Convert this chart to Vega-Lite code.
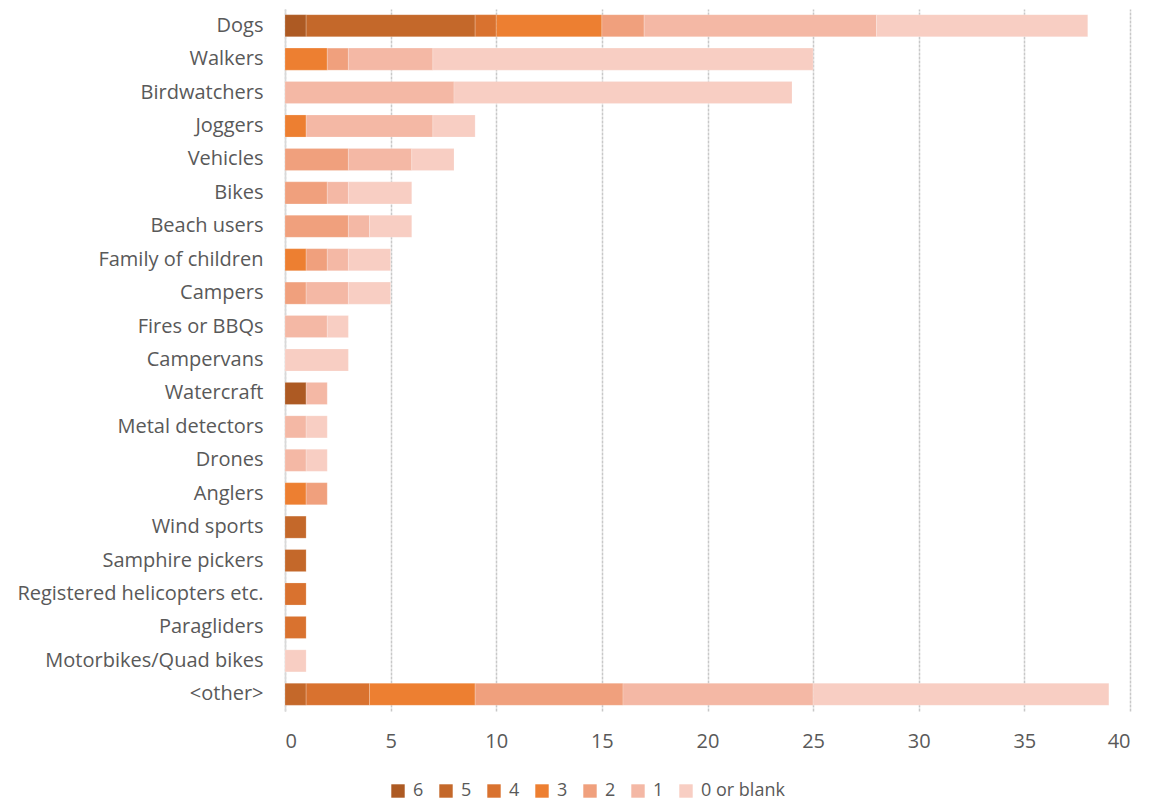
{
  "$schema": "https://vega.github.io/schema/vega-lite/v6.json",
  "width": 845,
  "height": 702,
  "padding": {"left": 16, "top": 9, "right": 14, "bottom": 4},
  "background": "white",
  "config": {
    "font": "Open Sans",
    "view": {"stroke": null},
    "axis": {"labelFont": "Open Sans", "labelColor": "#595959", "labelFontSize": 20}
  },
  "data": {
    "values": [
      {"cat": "Dogs", "level": "6", "ord": 1, "n": 1},
      {"cat": "Dogs", "level": "5", "ord": 2, "n": 8},
      {"cat": "Dogs", "level": "4", "ord": 3, "n": 1},
      {"cat": "Dogs", "level": "3", "ord": 4, "n": 5},
      {"cat": "Dogs", "level": "2", "ord": 5, "n": 2},
      {"cat": "Dogs", "level": "1", "ord": 6, "n": 11},
      {"cat": "Dogs", "level": "0 or blank", "ord": 7, "n": 10},
      {"cat": "Walkers", "level": "3", "ord": 4, "n": 2},
      {"cat": "Walkers", "level": "2", "ord": 5, "n": 1},
      {"cat": "Walkers", "level": "1", "ord": 6, "n": 4},
      {"cat": "Walkers", "level": "0 or blank", "ord": 7, "n": 18},
      {"cat": "Birdwatchers", "level": "1", "ord": 6, "n": 8},
      {"cat": "Birdwatchers", "level": "0 or blank", "ord": 7, "n": 16},
      {"cat": "Joggers", "level": "3", "ord": 4, "n": 1},
      {"cat": "Joggers", "level": "1", "ord": 6, "n": 6},
      {"cat": "Joggers", "level": "0 or blank", "ord": 7, "n": 2},
      {"cat": "Vehicles", "level": "2", "ord": 5, "n": 3},
      {"cat": "Vehicles", "level": "1", "ord": 6, "n": 3},
      {"cat": "Vehicles", "level": "0 or blank", "ord": 7, "n": 2},
      {"cat": "Bikes", "level": "2", "ord": 5, "n": 2},
      {"cat": "Bikes", "level": "1", "ord": 6, "n": 1},
      {"cat": "Bikes", "level": "0 or blank", "ord": 7, "n": 3},
      {"cat": "Beach users", "level": "2", "ord": 5, "n": 3},
      {"cat": "Beach users", "level": "1", "ord": 6, "n": 1},
      {"cat": "Beach users", "level": "0 or blank", "ord": 7, "n": 2},
      {"cat": "Family of children", "level": "3", "ord": 4, "n": 1},
      {"cat": "Family of children", "level": "2", "ord": 5, "n": 1},
      {"cat": "Family of children", "level": "1", "ord": 6, "n": 1},
      {"cat": "Family of children", "level": "0 or blank", "ord": 7, "n": 2},
      {"cat": "Campers", "level": "2", "ord": 5, "n": 1},
      {"cat": "Campers", "level": "1", "ord": 6, "n": 2},
      {"cat": "Campers", "level": "0 or blank", "ord": 7, "n": 2},
      {"cat": "Fires or BBQs", "level": "1", "ord": 6, "n": 2},
      {"cat": "Fires or BBQs", "level": "0 or blank", "ord": 7, "n": 1},
      {"cat": "Campervans", "level": "0 or blank", "ord": 7, "n": 3},
      {"cat": "Watercraft", "level": "6", "ord": 1, "n": 1},
      {"cat": "Watercraft", "level": "1", "ord": 6, "n": 1},
      {"cat": "Metal detectors", "level": "1", "ord": 6, "n": 1},
      {"cat": "Metal detectors", "level": "0 or blank", "ord": 7, "n": 1},
      {"cat": "Drones", "level": "1", "ord": 6, "n": 1},
      {"cat": "Drones", "level": "0 or blank", "ord": 7, "n": 1},
      {"cat": "Anglers", "level": "3", "ord": 4, "n": 1},
      {"cat": "Anglers", "level": "2", "ord": 5, "n": 1},
      {"cat": "Wind sports", "level": "5", "ord": 2, "n": 1},
      {"cat": "Samphire pickers", "level": "5", "ord": 2, "n": 1},
      {"cat": "Registered helicopters etc.", "level": "4", "ord": 3, "n": 1},
      {"cat": "Paragliders", "level": "4", "ord": 3, "n": 1},
      {"cat": "Motorbikes/Quad bikes", "level": "0 or blank", "ord": 7, "n": 1},
      {"cat": "<other>", "level": "5", "ord": 2, "n": 1},
      {"cat": "<other>", "level": "4", "ord": 3, "n": 3},
      {"cat": "<other>", "level": "3", "ord": 4, "n": 5},
      {"cat": "<other>", "level": "2", "ord": 5, "n": 7},
      {"cat": "<other>", "level": "1", "ord": 6, "n": 9},
      {"cat": "<other>", "level": "0 or blank", "ord": 7, "n": 14}
    ]
  },
  "mark": {"type": "bar", "stroke": "white", "strokeWidth": 0.5, "strokeOpacity": 0.4},
  "encoding": {
    "y": {
      "field": "cat",
      "type": "nominal",
      "sort": ["Dogs", "Walkers", "Birdwatchers", "Joggers", "Vehicles", "Bikes", "Beach users", "Family of children", "Campers", "Fires or BBQs", "Campervans", "Watercraft", "Metal detectors", "Drones", "Anglers", "Wind sports", "Samphire pickers", "Registered helicopters etc.", "Paragliders", "Motorbikes/Quad bikes", "<other>"],
      "scale": {"paddingInner": 0.34, "paddingOuter": 0.17},
      "axis": {"title": null, "ticks": false, "domain": true, "domainColor": "#d9d9d9", "domainWidth": 1.5, "labelPadding": 22, "labelLimit": 400}
    },
    "x": {
      "field": "n",
      "type": "quantitative",
      "aggregate": "sum",
      "stack": "zero",
      "scale": {"domain": [0, 40], "nice": false},
      "axis": {"title": null, "values": [0, 5, 10, 15, 20, 25, 30, 35, 40], "grid": true, "gridColor": "#c8c8c8", "gridWidth": 1.5, "gridDash": [3, 1], "domain": false, "ticks": false, "labelPadding": 20}
    },
    "color": {
      "field": "level",
      "type": "nominal",
      "scale": {
        "domain": ["6", "5", "4", "3", "2", "1", "0 or blank"],
        "range": ["#AD5A23", "#C4682A", "#D9722F", "#ED7F31", "#F0A07D", "#F4B8A5", "#F8CEC3"]
      },
      "legend": {
        "title": null,
        "orient": "none",
        "legendX": 104,
        "legendY": 773,
        "direction": "horizontal",
        "symbolType": "square",
        "symbolStrokeWidth": 0,
        "symbolSize": 180,
        "labelFontSize": 18,
        "labelColor": "#595959",
        "labelFont": "Open Sans",
        "labelOffset": 6,
        "columnPadding": 13
      }
    },
    "order": {"field": "ord", "type": "quantitative", "aggregate": "min"}
  }
}
